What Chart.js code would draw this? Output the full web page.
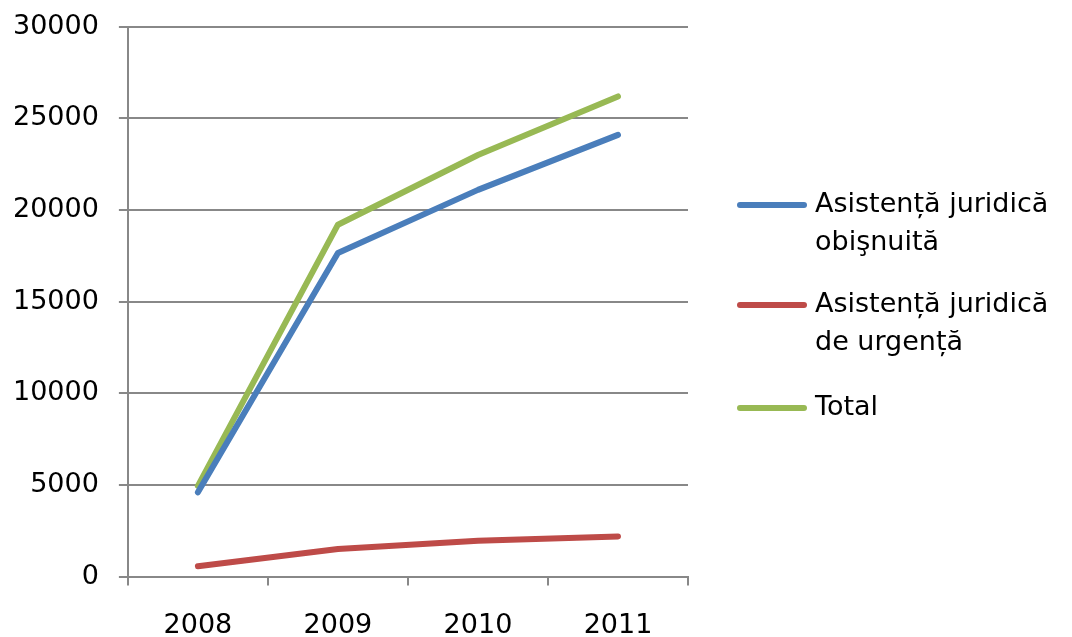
<!DOCTYPE html>
<html>
<head>
<meta charset="utf-8">
<script src="https://cdn.jsdelivr.net/npm/chart.js@4"></script>
<style>
  html, body { margin: 0; padding: 0; background: #fff; }
  #wrap { width: 1072px; height: 637px; }
</style>
</head>
<body>
<div id="wrap"><canvas id="myChart" width="1072" height="637"></canvas></div>
<script>
// === Date ===
const years = ['2008', '2009', '2010', '2011'];
const obisnuita = [4600, 17650, 21100, 24100];
const urgenta = [560, 1510, 1960, 2190];
const total = [4950, 19200, 23000, 26200];
const yTicks = [0, 5000, 10000, 15000, 20000, 25000, 30000];

const seriesLabels = [
  ['Asistență juridică', 'obişnuită'],
  ['Asistență juridică', 'de urgență'],
  ['Total']
];
const seriesColors = ['#4A7EBB', '#BE4B48', '#98B954'];

const FONT = '"DejaVu Sans", sans-serif';
const FONT_SIZE = 27;
const gridColor = '#888888';

// legenda desenata manual (etichete pe mai multe randuri)
const sideLegend = {
  id: 'sideLegend',
  afterDraw(chart) {
    const ctx = chart.ctx;
    const rowsY = [205, 305, 408];
    ctx.save();
    ctx.font = FONT_SIZE + 'px ' + FONT;
    ctx.textBaseline = 'middle';
    ctx.fillStyle = '#000';
    chart.data.datasets.forEach((ds, i) => {
      const y = rowsY[i];
      ctx.strokeStyle = ds.borderColor;
      ctx.lineWidth = 6;
      ctx.lineCap = 'round';
      ctx.beginPath();
      ctx.moveTo(740, y);
      ctx.lineTo(804, y);
      ctx.stroke();
      ds.label.forEach((line, j) => {
        ctx.fillText(line, 815, y + j * 38);
      });
    });
    ctx.restore();
  }
};

const datasets = [obisnuita, urgenta, total].map((vals, i) => ({
  label: seriesLabels[i],
  data: vals,
  borderColor: seriesColors[i],
  backgroundColor: seriesColors[i],
  borderWidth: 6,
  borderCapStyle: 'round',
  borderJoinStyle: 'round',
  pointRadius: 0,
  tension: 0,
  fill: false
}));

new Chart(document.getElementById('myChart'), {
  type: 'line',
  data: { labels: years, datasets: datasets },
  plugins: [sideLegend],
  options: {
    responsive: false,
    animation: false,
    layout: { padding: { top: 26, right: 384, bottom: -29, left: -7 } },
    plugins: {
      legend: { display: false },
      tooltip: { enabled: false }
    },
    scales: {
      x: {
        offset: true,
        grid: {
          offset: true,
          drawOnChartArea: false,
          drawTicks: true,
          tickLength: 9,
          color: gridColor,
          lineWidth: 2
        },
        border: { color: gridColor, width: 2 },
        ticks: { color: '#000', font: { family: FONT, size: FONT_SIZE }, padding: 24 }
      },
      y: {
        min: 0,
        max: 30000,
        afterBuildTicks: axis => { axis.ticks = yTicks.map(v => ({ value: v })); },
        grid: { color: gridColor, lineWidth: 2, tickLength: 9 },
        border: { color: gridColor, width: 2 },
        ticks: {
          color: '#000',
          font: { family: FONT, size: FONT_SIZE, lineHeight: 0.5 },
          padding: 20,
          callback: v => String(v)
        }
      }
    }
  }
});
</script>
</body>
</html>
